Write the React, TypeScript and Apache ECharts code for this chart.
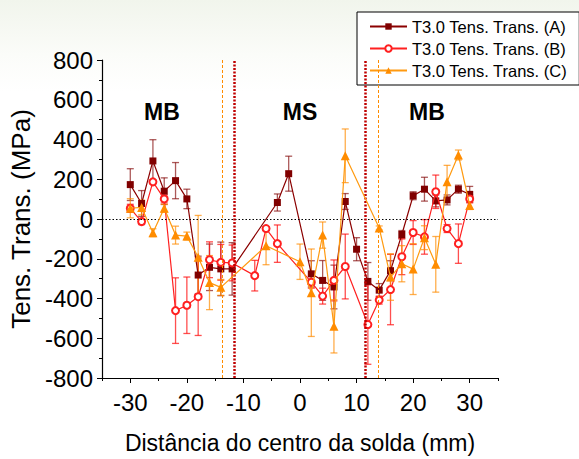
import React, { useEffect, useRef } from "react";
import * as echarts from "echarts";

// Positions along the weld (mm)
const X_A = [-30, -28, -26, -24, -22, -20, -18, -16, -14, -12, -4, -2, 2, 4, 6, 8, 10, 12, 14, 16, 18, 20, 22, 24, 26, 28, 30];
const X_B = [-30, -28, -26, -24, -22, -20, -18, -16, -14, -12, -8, -6, -4, 2, 4, 6, 8, 12, 14, 16, 18, 20, 22, 24, 26, 28, 30];
const X_C = [-30, -28, -26, -24, -22, -20, -18, -16, -14, -6, 0, 2, 4, 6, 8, 14, 16, 18, 20, 22, 24, 26, 28, 30];

// Stress values (MPa)
const VAL_A = [173, 78, 292, 140, 193, 101, -282, -243, -251, -251, 83, 228, -276, -309, -342, 88, -152, -314, -358, -260, -78, 117, 150, 91, 96, 150, 124];
const VAL_B = [54, -13, 187, 101, -461, -434, -391, -205, -218, -221, -285, -48, -124, -318, -388, -309, -239, -531, -408, -355, -190, -68, -90, 137, -48, -124, 101];
const VAL_C = [54, 58, -69, 54, -81, -86, -192, -320, -344, -135, -215, -371, -81, -540, 318, -45, -292, -225, -252, -94, -228, 187, 322, 68];

// Error bars (± MPa)
const ERR_A = [80, 65, 107, 67, 91, 49, 95, 117, 135, 132, 43, 88, 66, 100, 110, 40, 58, 95, 33, 50, 20, 20, 60, 30, 25, 20, 40];
const ERR_B = [20, 15, 10, 20, 165, 142, 195, 90, 90, 90, 77, 10, 94, 30, 40, 103, 163, 200, 20, 177, 90, 60, 87, 84, 20, 99, 20];
const ERR_C = [48, 37, 20, 20, 45, 20, 210, 136, 40, 95, 89, 220, 66, 134, 135, 10, 117, 91, 128, 60, 140, 83, 25, 20];

const NAMES = ["T3.0 Tens. Trans. (A)", "T3.0 Tens. Trans. (B)", "T3.0 Tens. Trans. (C)"];

// Zone boundaries (mm)
const HAZ_LINES = [-13.7, 13.8];
const WELD_LINES = [-11.6, 11.6];

const X_MAJOR = [-30, -20, -10, 0, 10, 20, 30];

const FONT = "Liberation Sans, Arial, sans-serif";

function errorSeries(xs: number[], vs: number[], es: number[], color: string) {
  return {
    type: "custom",
    xAxisIndex: 0,
    yAxisIndex: 0,
    z: 1,
    silent: true,
    data: xs.map((x, i) => [x, vs[i], es[i]]),
    encode: { x: 0, y: 1 },
    renderItem: (params: any, api: any) => {
      const x = api.value(0);
      const y = api.value(1);
      const e = api.value(2);
      const top = api.coord([x, y + e]);
      const bot = api.coord([x, y - e]);
      const cap = 3.5;
      const style = { stroke: color, lineWidth: 1.3 };
      return {
        type: "group",
        children: [
          { type: "line", shape: { x1: top[0], y1: top[1], x2: bot[0], y2: bot[1] }, style },
          { type: "line", shape: { x1: top[0] - cap, y1: top[1], x2: top[0] + cap, y2: top[1] }, style },
          { type: "line", shape: { x1: bot[0] - cap, y1: bot[1], x2: bot[0] + cap, y2: bot[1] }, style },
        ],
      };
    },
  };
}

export default function App() {
  const ref = useRef<HTMLDivElement>(null);
  useEffect(() => {
    if (!ref.current) return;
    const chart = echarts.init(ref.current, null, { renderer: "svg" });
    const option: any = {
      animation: false,
      backgroundColor: {
        type: "linear",
        x: 0, y: 0, x2: 0, y2: 1,
        colorStops: [
          { offset: 0, color: "#f1f5ec" },
          { offset: 0.12, color: "#fbfcf9" },
          { offset: 0.2, color: "#ffffff" },
          { offset: 1, color: "#ffffff" },
        ],
      },
      textStyle: { fontFamily: FONT },
      grid: { left: 102, right: 81, top: 60, bottom: 76 },
      legend: {
        data: NAMES,
        orient: "vertical",
        left: 357,
        top: 12,
        padding: [5, 12, 5, 12],
        itemGap: 3,
        itemWidth: 37,
        itemHeight: 8,
        borderColor: "#000",
        borderWidth: 1,
        backgroundColor: "#fff",
        textStyle: { fontSize: 16.5, color: "#000", fontFamily: FONT, lineHeight: 19 },
      },
      xAxis: [
        {
          type: "value",
          min: -35,
          max: 35,
          interval: 5,
          position: "bottom",
          axisLine: { show: true, onZero: false, lineStyle: { color: "#000", width: 1.2 } },
          axisTick: { show: true, length: 3, lineStyle: { color: "#000" } },
          axisLabel: { show: false },
          splitLine: { show: false },
          name: "Distância do centro da solda (mm)",
          nameLocation: "middle",
          nameGap: 53,
          nameTextStyle: { fontSize: 23, color: "#000", fontFamily: FONT },
        },
        {
          type: "value",
          min: -35,
          max: 35,
          position: "bottom",
          axisLine: { show: false, onZero: false },
          axisTick: { show: true, length: 5, customValues: X_MAJOR, lineStyle: { color: "#000" } },
          axisLabel: { show: true, customValues: X_MAJOR, fontSize: 24, color: "#000", margin: 12, fontFamily: FONT },
          splitLine: { show: false },
        },
      ],
      yAxis: {
        type: "value",
        min: -800,
        max: 800,
        interval: 200,
        axisLine: { show: true, onZero: false, lineStyle: { color: "#000", width: 1.2 } },
        axisTick: { show: true, length: 5, lineStyle: { color: "#000" } },
        minorTick: { show: true, splitNumber: 2, length: 3, lineStyle: { color: "#000" } },
        axisLabel: { fontSize: 24, color: "#000", margin: 9, fontFamily: FONT },
        splitLine: { show: false },
        name: "Tens. Trans. (MPa)",
        nameLocation: "middle",
        nameGap: 64,
        nameTextStyle: { fontSize: 26, color: "#000", fontFamily: FONT },
      },
      graphic: [
        { type: "text", x: 162, y: 112, style: { text: "MB", font: `bold 23px ${FONT}`, fill: "#000", align: "center", verticalAlign: "middle" } },
        { type: "text", x: 300, y: 112, style: { text: "MS", font: `bold 23px ${FONT}`, fill: "#000", align: "center", verticalAlign: "middle" } },
        { type: "text", x: 427, y: 112, style: { text: "MB", font: `bold 23px ${FONT}`, fill: "#000", align: "center", verticalAlign: "middle" } },
      ],
      series: [
        errorSeries(X_A, VAL_A, ERR_A, "rgba(128,0,0,0.65)"),
        errorSeries(X_B, VAL_B, ERR_B, "rgba(255,20,20,0.75)"),
        errorSeries(X_C, VAL_C, ERR_C, "rgba(255,140,0,0.7)"),
        {
          name: NAMES[0],
          type: "line",
          z: 3,
          data: X_A.map((x, i) => [x, VAL_A[i]]),
          symbol: "rect",
          symbolSize: 7,
          color: "#800000",
          itemStyle: { color: "#800000" },
          lineStyle: { color: "#8B0000", width: 1.2 },
          markLine: {
            silent: true,
            symbol: "none",
            label: { show: false },
            data: [
              { yAxis: 0, lineStyle: { color: "#000", type: [1.5, 2], width: 1 } },
              ...HAZ_LINES.map((v) => ({ xAxis: v, lineStyle: { color: "#FF8C00", type: [3, 2], width: 1 } })),
              ...WELD_LINES.map((v) => ({ xAxis: v, lineStyle: { color: "#C00000", type: [2, 1.5], width: 2.5 } })),
            ],
          },
        },
        {
          name: NAMES[1],
          type: "line",
          z: 4,
          data: X_B.map((x, i) => [x, VAL_B[i]]),
          symbol: "emptyCircle",
          symbolSize: 7,
          color: "#FF2020",
          itemStyle: { color: "#FF2020", borderWidth: 1.2 },
          lineStyle: { color: "#FF2020", width: 1.2 },
        },
        {
          name: NAMES[2],
          type: "line",
          z: 5,
          data: X_C.map((x, i) => [x, VAL_C[i]]),
          symbol: "triangle",
          symbolSize: 9,
          color: "#FF8C00",
          itemStyle: { color: "#FF8C00" },
          lineStyle: { color: "#FF9A10", width: 1.2 },
        },
      ],
    };
    chart.setOption(option);
    return () => chart.dispose();
  }, []);
  return <div ref={ref} style={{ position: "fixed", left: 0, top: 0, width: 579, height: 459 }} />;
}
